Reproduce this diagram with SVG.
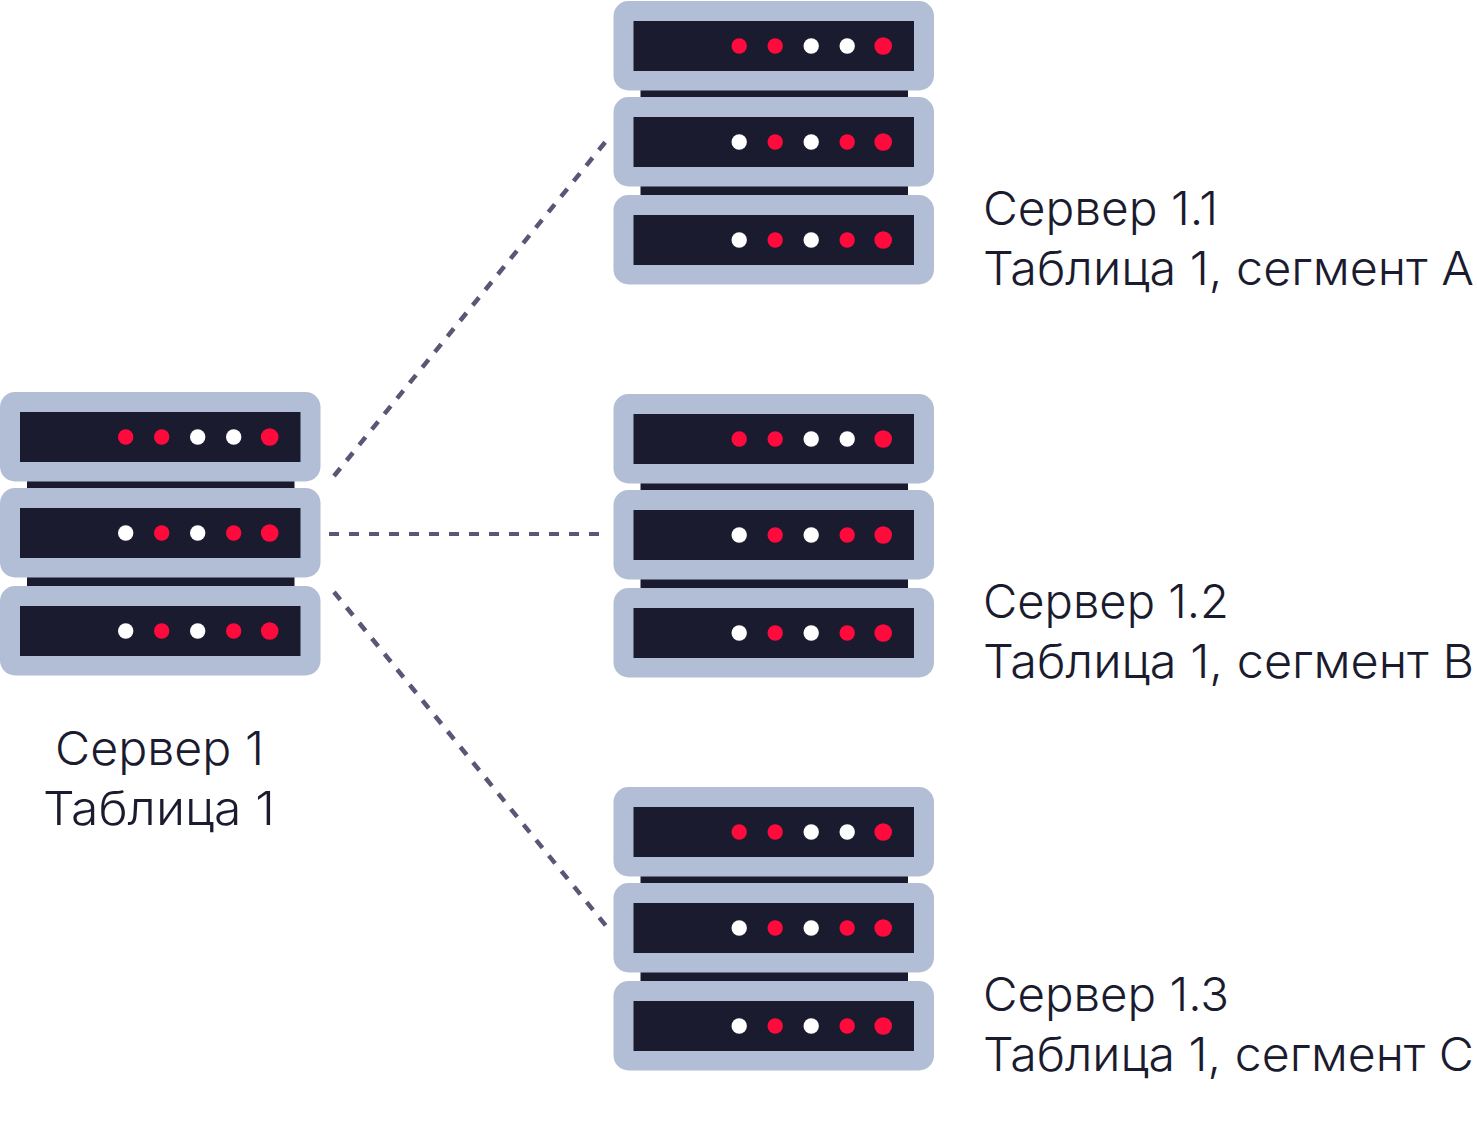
<svg xmlns="http://www.w3.org/2000/svg" xmlns:xlink="http://www.w3.org/1999/xlink" width="1477" height="1144" viewBox="0 0 1477 1144">
<style>
.case{fill:#b2bed6}
.dark{fill:#1b1b2f}
.r{fill:#ff0a3c}
.w{fill:#fff}
.conn{fill:none;stroke:#5a5675;stroke-width:4;stroke-dasharray:10 10}
.diag{stroke-width:4.500}
text{font-family:"Inter","Noto Sans","Liberation Sans",sans-serif;font-size:47px;font-weight:300;fill:#1b1b2f}
</style>
<defs>
<g id="stack">
<rect class="dark" x="27" y="478" width="267.500" height="112"/>
<rect class="case" x="0" y="392" width="320.500" height="89.500" rx="15"/>
<rect class="case" x="0" y="488" width="320.500" height="89.500" rx="15"/>
<rect class="case" x="0" y="586" width="320.500" height="89.500" rx="15"/>
<rect class="dark" x="20" y="412" width="280.500" height="50"/>
<rect class="dark" x="20" y="508" width="280.500" height="50"/>
<rect class="dark" x="20" y="606" width="280.500" height="50"/>
<circle class="r" cx="125.700" cy="437" r="7.700"/><circle class="r" cx="161.700" cy="437" r="7.700"/><circle class="w" cx="197.700" cy="437" r="7.700"/><circle class="w" cx="233.700" cy="437" r="7.700"/><circle class="r" cx="269.700" cy="437" r="8.800"/>
<circle class="w" cx="125.700" cy="533" r="7.700"/><circle class="r" cx="161.700" cy="533" r="7.700"/><circle class="w" cx="197.700" cy="533" r="7.700"/><circle class="r" cx="233.700" cy="533" r="7.700"/><circle class="r" cx="269.700" cy="533" r="8.800"/>
<circle class="w" cx="125.700" cy="631" r="7.700"/><circle class="r" cx="161.700" cy="631" r="7.700"/><circle class="w" cx="197.700" cy="631" r="7.700"/><circle class="r" cx="233.700" cy="631" r="7.700"/><circle class="r" cx="269.700" cy="631" r="8.800"/>
</g>
</defs>
<g id="connectors">
<path class="conn diag" d="M334 476L607 140"/>
<path class="conn" d="M329 534L600 534"/>
<path class="conn diag" d="M334 592L607 927"/>
</g>
<g id="server-1">
<use href="#stack" xlink:href="#stack"/>
<text x="55" y="765" textLength="209" lengthAdjust="spacingAndGlyphs">Сервер 1</text>
<text x="43" y="825" textLength="232" lengthAdjust="spacingAndGlyphs">Таблица 1</text>
</g>
<g id="server-1-1">
<use href="#stack" xlink:href="#stack" x="613.500" y="-391"/>
<text x="983" y="225" textLength="235" lengthAdjust="spacingAndGlyphs">Сервер 1.1</text>
<text x="983" y="285" textLength="491" lengthAdjust="spacingAndGlyphs">Таблица 1, сегмент А</text>
</g>
<g id="server-1-2">
<use href="#stack" xlink:href="#stack" x="613.500" y="2"/>
<text x="983" y="618" textLength="246" lengthAdjust="spacingAndGlyphs">Сервер 1.2</text>
<text x="983" y="678" textLength="491" lengthAdjust="spacingAndGlyphs">Таблица 1, сегмент В</text>
</g>
<g id="server-1-3">
<use href="#stack" xlink:href="#stack" x="613.500" y="395"/>
<text x="983" y="1011" textLength="246" lengthAdjust="spacingAndGlyphs">Сервер 1.3</text>
<text x="983" y="1071" textLength="491" lengthAdjust="spacingAndGlyphs">Таблица 1, сегмент С</text>
</g>
</svg>
